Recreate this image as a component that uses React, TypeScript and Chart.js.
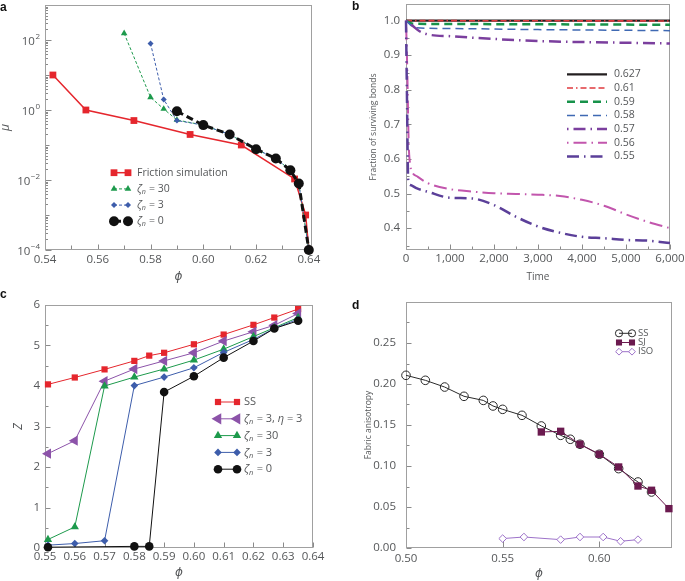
import React, { useEffect, useRef } from 'react';
import { Chart, registerables } from 'chart.js';
import { drawPoint } from 'chart.js/helpers';

Chart.register(...registerables);

const FONT = '"Open Sans", "DejaVu Sans", sans-serif';
const TXT = '#555759';
const BOX = '#a0a0a0';
const TICK = '#8a8a8a';

// ---------------- Panel a ----------------
const phiFriction = [0.543, 0.5555, 0.5737, 0.595, 0.6144, 0.6346, 0.6388, 0.640];
const muFriction = [10, 1.0, 0.5, 0.2, 0.1, 0.0107, 0.001, 0.0001];
const phiZeta30a = [0.570, 0.580, 0.585, 0.590, 0.600, 0.610, 0.620, 0.6275, 0.633, 0.6362, 0.640];
const muZeta30a = [155, 2.3, 1.07, 0.52, 0.37, 0.2, 0.076, 0.041, 0.019, 0.0079, 0.0001];
const phiZeta3a = [0.580, 0.585, 0.590, 0.600, 0.610, 0.620, 0.6275, 0.633, 0.6362, 0.640];
const muZeta3a = [80, 2.0, 0.5, 0.37, 0.2, 0.076, 0.041, 0.019, 0.0079, 0.0001];
const phiZeta0a = [0.590, 0.600, 0.610, 0.620, 0.6275, 0.633, 0.6362, 0.640];
const muZeta0a = [0.92, 0.37, 0.2, 0.076, 0.041, 0.019, 0.0079, 0.0001];
const phiTicksA = [0.54, 0.56, 0.58, 0.60, 0.62, 0.64];
const phiMinorA = [0.55, 0.57, 0.59, 0.61, 0.63];
const muLabelExps = [-4, -2, 0, 2];
const muDecades = [-4, -3, -2, -1, 0, 1, 2, 3];

// ---------------- Panel b ----------------
const t627 = [0, 6000];
const f627 = [1.0, 1.0];
const t61 = [0, 6000];
const f61 = [1.0, 0.999];
const t59 = [0, 150, 1000, 6000];
const f59 = [1.0, 0.991, 0.99, 0.988];
const t58 = [0, 200, 1000, 3000, 6000];
const f58 = [1.0, 0.98, 0.977, 0.974, 0.971];
const t57 = [0, 150, 300, 500, 1000, 2000, 3000, 4000, 5000, 6000];
const f57 = [1.0, 0.985, 0.97, 0.96, 0.955, 0.947, 0.941, 0.938, 0.936, 0.934];
const t56 = [0, 30, 60, 100, 150, 250, 500, 1000, 1500, 2000, 2500, 3000, 3500, 4000, 4500, 5000, 5500, 6000];
const f56 = [1.0, 0.85, 0.65, 0.58, 0.56, 0.55, 0.53, 0.513, 0.506, 0.501, 0.499, 0.497, 0.493, 0.482, 0.465, 0.44, 0.418, 0.40];
const t55 = [0, 20, 50, 100, 250, 500, 1000, 1500, 2000, 2500, 3000, 3500, 4000, 4500, 5000, 5500, 6000];
const f55 = [1.0, 0.8, 0.54, 0.525, 0.515, 0.505, 0.488, 0.486, 0.467, 0.433, 0.405, 0.387, 0.375, 0.371, 0.366, 0.364, 0.357];
const timeTicks = [0, 1000, 2000, 3000, 4000, 5000, 6000];
const timeMinor = [500, 1500, 2500, 3500, 4500, 5500];
const fracTicks = [0.4, 0.5, 0.6, 0.7, 0.8, 0.9, 1.0];
const fracMinor = [0.35, 0.45, 0.55, 0.65, 0.75, 0.85, 0.95];
const bondLabels = ['0.627', '0.61', '0.59', '0.58', '0.57', '0.56', '0.55'];

// ---------------- Panel c ----------------
const phiSSc = [0.551, 0.560, 0.570, 0.580, 0.585, 0.590, 0.600, 0.610, 0.620, 0.627, 0.635];
const zSSc = [4.04, 4.21, 4.41, 4.62, 4.75, 4.82, 5.03, 5.27, 5.51, 5.69, 5.9];
const phiC = [0.551, 0.560, 0.570, 0.580, 0.590, 0.600, 0.610, 0.620, 0.627, 0.635];
const zEta3 = [2.33, 2.65, 4.12, 4.42, 4.62, 4.82, 5.11, 5.34, 5.5, 5.79];
const zZeta30 = [0.21, 0.52, 4.0, 4.22, 4.42, 4.64, 4.91, 5.22, 5.44, 5.69];
const zZeta3 = [0.07, 0.11, 0.18, 4.01, 4.22, 4.45, 4.83, 5.15, 5.42, 5.65];
const phiZeta0c = [0.551, 0.580, 0.585, 0.590, 0.600, 0.610, 0.620, 0.627, 0.635];
const zZeta0 = [0.02, 0.04, 0.04, 3.85, 4.24, 4.7, 5.11, 5.42, 5.61];
const phiTicksC = [0.55, 0.56, 0.57, 0.58, 0.59, 0.60, 0.61, 0.62, 0.63, 0.64];
const zTicks = [0, 1, 2, 3, 4, 5, 6];
const zMinor = [0.5, 1.5, 2.5, 3.5, 4.5, 5.5];

// ---------------- Panel d ----------------
const phiSSd = [0.50, 0.51, 0.52, 0.53, 0.54, 0.545, 0.55, 0.56, 0.57, 0.58, 0.585, 0.59, 0.60, 0.61, 0.62, 0.627];
const faSS = [0.2106, 0.2045, 0.1963, 0.185, 0.180, 0.1732, 0.1691, 0.1618, 0.1488, 0.1374, 0.1326, 0.1265, 0.1143, 0.0968, 0.0805, 0.0683];
const phiSJ = [0.57, 0.58, 0.59, 0.60, 0.61, 0.62, 0.627, 0.636];
const faSJ = [0.1415, 0.1423, 0.1265, 0.1143, 0.0988, 0.0756, 0.0704, 0.048];
const phiISO = [0.55, 0.561, 0.58, 0.59, 0.602, 0.611, 0.62];
const faISO = [0.0115, 0.0134, 0.0102, 0.0134, 0.0134, 0.0082, 0.0102];
const phiTicksD = [0.50, 0.55, 0.60];
const faTicks = [0, 0.05, 0.10, 0.15, 0.20, 0.25];
const faMinor = [0.025, 0.075, 0.125, 0.175, 0.225, 0.275];

// ---------------- helpers ----------------
const pts = (xs: number[], ys: number[]) => xs.map((x, i) => ({ x, y: ys[i] }));

type Part = [string, 'n' | 'i' | 's'];

function drawParts(ctx: CanvasRenderingContext2D, parts: Part[], x: number, y: number, size: number) {
  ctx.fillStyle = TXT;
  ctx.textBaseline = 'middle';
  ctx.textAlign = 'left';
  for (const [t, k] of parts) {
    const sz = k === 's' ? size * 0.68 : size;
    ctx.font = `${k !== 'n' ? 'italic ' : ''}${sz}px ${FONT}`;
    const dy = k === 's' ? size * 0.3 : 0;
    ctx.fillText(t, x, y + dy);
    x += ctx.measureText(t).width + (k === 's' ? 0.5 : 0);
  }
}

type TickSet = { axis: 'x' | 'y'; values: number[]; len: number };
type FrameCfg = { ticks: TickSet[]; pow?: { exps: number[]; size: number; supSize: number; pad: number } };

const makeFrame = (cfg: FrameCfg) => ({
  id: 'frame',
  beforeDatasetsDraw(chart: any) {
    const { ctx, chartArea: a } = chart;
    ctx.save();
    ctx.lineWidth = 1;
    const l = Math.round(a.left) + 0.5;
    const t = Math.round(a.top) + 0.5;
    const r = Math.round(a.right) - 0.5;
    const b = Math.round(a.bottom) - 0.5;
    ctx.strokeStyle = TICK;
    for (const set of cfg.ticks) {
      const sc = chart.scales[set.axis];
      for (const v of set.values) {
        const p = Math.round(sc.getPixelForValue(v)) + 0.5;
        ctx.beginPath();
        if (set.axis === 'x') {
          ctx.moveTo(p, b);
          ctx.lineTo(p, b - set.len);
        } else {
          ctx.moveTo(l, p);
          ctx.lineTo(l + set.len, p);
        }
        ctx.stroke();
      }
    }
    ctx.strokeStyle = BOX;
    ctx.strokeRect(l, t, r - l, b - t);
    if (cfg.pow) {
      const sc = chart.scales.y;
      const pw = cfg.pow;
      for (const e of pw.exps) {
        const y = sc.getPixelForValue(Math.pow(10, e));
        const sup = e < 0 ? '\u2212' + -e : String(e);
        ctx.font = `${pw.supSize}px ${FONT}`;
        const sw = ctx.measureText(sup).width;
        ctx.font = `${pw.size}px ${FONT}`;
        const bw = ctx.measureText('10').width;
        const right = a.left - pw.pad;
        ctx.fillStyle = TXT;
        ctx.textBaseline = 'middle';
        ctx.textAlign = 'left';
        ctx.fillText('10', right - sw - bw - 0.5, y + 1.5);
        ctx.font = `${pw.supSize}px ${FONT}`;
        ctx.fillText(sup, right - sw, y - 3);
      }
    }
    ctx.restore();
  },
});

type LegendCfg = {
  x1: number; x2: number; textX: number; y0: number; dy: number; size: number; markers: boolean;
  items: { ds: number; parts: Part[] }[];
};

const makeLegend = (cfg: LegendCfg) => ({
  id: 'sketchLegend',
  afterDraw(chart: any) {
    const ctx: CanvasRenderingContext2D = chart.ctx;
    ctx.save();
    cfg.items.forEach((it, i) => {
      const y = cfg.y0 + i * cfg.dy;
      const ds: any = chart.data.datasets[it.ds];
      ctx.save();
      ctx.strokeStyle = ds.borderColor;
      ctx.lineWidth = ds.legendLineWidth ?? ds.borderWidth;
      ctx.setLineDash(ds.legendDash ?? ds.borderDash ?? []);
      ctx.beginPath();
      ctx.moveTo(cfg.x1, y);
      ctx.lineTo(cfg.x2, y);
      ctx.stroke();
      ctx.restore();
      if (cfg.markers) {
        for (const x of [cfg.x1, cfg.x2]) {
          ctx.save();
          ctx.setLineDash([]);
          ctx.fillStyle = ds.pointBackgroundColor;
          ctx.strokeStyle = ds.pointBorderColor;
          ctx.lineWidth = ds.pointBorderWidth;
          drawPoint(ctx, {
            pointStyle: ds.pointStyle,
            rotation: ds.pointRotation || 0,
            radius: ds.legendRadius ?? ds.pointRadius,
            borderWidth: ds.pointBorderWidth,
          } as any, x, y);
          ctx.restore();
        }
      }
      drawParts(ctx, it.parts, cfg.textX, y, cfg.size);
    });
    ctx.restore();
  },
});

type AxisOpts = {
  type?: string; min: number; max: number; ticks: number[]; fmt?: (v: number) => string;
  size: number; labelPad: number; showLabels?: boolean; labelSize?: number;
  title?: string; titleSize?: number; titleItalic?: boolean; titlePad?: number;
};

function axis(kind: 'x' | 'y', o: AxisOpts) {
  return {
    type: o.type || 'linear',
    position: kind === 'x' ? 'bottom' : 'left',
    min: o.min,
    max: o.max,
    grid: { display: false, drawTicks: false },
    border: { display: false },
    afterBuildTicks: (s: any) => {
      s.ticks = o.ticks.map((v) => ({ value: v }));
    },
    afterFit: (s: any) => {
      if (kind === 'x') s.height = o.size;
      else s.width = o.size;
      s.paddingLeft = 0;
      s.paddingRight = 0;
      s.paddingTop = 0;
      s.paddingBottom = 0;
    },
    ticks: {
      display: o.showLabels !== false,
      padding: o.labelPad,
      autoSkip: false,
      maxRotation: 0,
      minRotation: 0,
      color: TXT,
      font: { family: FONT, size: o.labelSize ?? 11.5 },
      callback: (v: any) => (o.fmt ? o.fmt(Number(v)) : String(v)),
    },
    title: o.title
      ? {
          display: true,
          text: o.title,
          color: TXT,
          font: { family: FONT, size: o.titleSize ?? 12, style: o.titleItalic === false ? 'normal' : 'italic' },
          padding: { top: o.titlePad ?? 0, bottom: o.titlePad ?? 0 },
        }
      : { display: false },
  };
}

function baseOptions(padding: any, x: any, y: any) {
  return {
    responsive: false,
    maintainAspectRatio: false,
    animation: false,
    devicePixelRatio: 1,
    events: [],
    layout: { padding },
    plugins: { legend: { display: false }, tooltip: { enabled: false }, title: { display: false } },
    elements: { line: { tension: 0 } },
    scales: { x, y },
  };
}

// ---------------- configs ----------------
function configA() {
  const yMinor: number[] = [];
  const yMid: number[] = [];
  for (const e of muDecades) {
    if (!muLabelExps.includes(e)) yMid.push(Math.pow(10, e));
    if (e < 3) for (let k = 2; k <= 9; k++) yMinor.push(k * Math.pow(10, e));
  }
  const datasets = [
    {
      data: pts(phiFriction, muFriction), borderColor: '#e5262d', borderWidth: 1.5, order: 4,
      pointStyle: 'rect', pointRadius: 4.8, pointBackgroundColor: '#e5262d', pointBorderColor: '#e5262d', pointBorderWidth: 0, clip: false,
    },
    {
      data: pts(phiZeta30a, muZeta30a), borderColor: '#1d9a4c', borderWidth: 1, borderDash: [3, 2], order: 3,
      pointStyle: 'triangle', pointRadius: 3.8, pointBackgroundColor: '#1d9a4c', pointBorderColor: '#1d9a4c', pointBorderWidth: 0, clip: false,
    },
    {
      data: pts(phiZeta3a, muZeta3a), borderColor: '#3d5dab', borderWidth: 1, borderDash: [3, 2], order: 2,
      pointStyle: 'rectRot', pointRadius: 3, pointBackgroundColor: '#3d5dab', pointBorderColor: '#3d5dab', pointBorderWidth: 0, clip: false,
    },
    {
      data: pts(phiZeta0a, muZeta0a), borderColor: '#111111', borderWidth: 3, borderDash: [7, 4], order: 1,
      pointStyle: 'circle', pointRadius: 5, pointBackgroundColor: '#111111', pointBorderColor: '#111111', pointBorderWidth: 0, clip: false,
    },
  ];
  return {
    type: 'line',
    data: { datasets },
    options: baseOptions(
      { left: 0, right: 30, top: 4, bottom: 0 },
      axis('x', { min: 0.54, max: 0.6412, ticks: phiTicksA, fmt: (v) => v.toFixed(2), size: 40, labelPad: 3, title: '\u03d5', titlePad: 6 }),
      axis('y', { type: 'logarithmic', min: 1e-4, max: 1e3, ticks: muLabelExps.map((e) => Math.pow(10, e)), size: 45, labelPad: 5, showLabels: false, title: '\u03bc', titlePad: -1.5 }),
    ),
    plugins: [
      makeFrame({
        ticks: [
          { axis: 'x', values: phiTicksA, len: 5 },
          { axis: 'x', values: phiMinorA, len: 4 },
          { axis: 'y', values: muLabelExps.map((e) => Math.pow(10, e)), len: 6 },
          { axis: 'y', values: yMid, len: 4 },
          { axis: 'y', values: yMinor, len: 2.5 },
        ],
        pow: { exps: muLabelExps, size: 11.5, supSize: 8, pad: 5 },
      }),
      makeLegend({
        x1: 114, x2: 128, textX: 137, y0: 172.7, dy: 16.2, size: 10.5, markers: true,
        items: [
          { ds: 0, parts: [['Friction simulation', 'n']] },
          { ds: 1, parts: [['\u03b6', 'i'], ['n', 's'], [' = 30', 'n']] },
          { ds: 2, parts: [['\u03b6', 'i'], ['n', 's'], [' = 3', 'n']] },
          { ds: 3, parts: [['\u03b6', 'i'], ['n', 's'], [' = 0', 'n']] },
        ],
      }),
    ],
  };
}

function configB() {
  const series = [
    { t: t627, f: f627, color: '#231f20', w: 2.2, dash: [] as number[] },
    { t: t61, f: f61, color: '#e03a3e', w: 1.6, dash: [6, 3, 1.5, 3, 6, 3, 6, 3] },
    { t: t59, f: f59, color: '#17924a', w: 2.5, dash: [8, 5] },
    { t: t58, f: f58, color: '#3f69b3', w: 1.5, dash: [8, 5] },
    { t: t57, f: f57, color: '#7b3f9e', w: 2.5, dash: [1.5, 5, 12, 5] },
    { t: t56, f: f56, color: '#c256ad', w: 2, dash: [1.5, 5, 13, 5] },
    { t: t55, f: f55, color: '#5b3f99', w: 2.5, dash: [12, 5, 1.5, 5] },
  ];
  const datasets = series.map((s, i) => ({
    label: bondLabels[i],
    data: pts(s.t, s.f),
    borderColor: s.color,
    borderWidth: s.w,
    borderDash: s.dash,
    pointRadius: 0,
    tension: 0.4,
    cubicInterpolationMode: 'monotone',
    order: 7 - i,
    clip: false,
  }));
  return {
    type: 'line',
    data: { datasets },
    options: baseOptions(
      { left: 0, right: 15, top: 4, bottom: 0 },
      axis('x', {
        min: 0, max: 6000, ticks: timeTicks, size: 40, labelPad: 1.5,
        fmt: (v) => v.toLocaleString('en-US'),
        title: 'Time', titleSize: 10, titleItalic: false, titlePad: 7,
      }),
      axis('y', {
        min: 0.337, max: 1.048, ticks: fracTicks, size: 64, labelPad: 6,
        fmt: (v) => v.toFixed(1),
        title: 'Fraction of surviving bonds', titleSize: 8.5, titleItalic: false, titlePad: 26,
      }),
    ),
    plugins: [
      makeFrame({
        ticks: [
          { axis: 'x', values: timeTicks, len: 5 },
          { axis: 'x', values: timeMinor, len: 3 },
          { axis: 'y', values: fracTicks, len: 5 },
          { axis: 'y', values: fracMinor, len: 3 },
        ],
      }),
      makeLegend({
        x1: 225, x2: 265, textX: 272, y0: 74.3, dy: 13.7, size: 10.5, markers: false,
        items: bondLabels.map((lab, i) => ({ ds: i, parts: [[lab, 'n']] as Part[] })),
      }),
    ],
  };
}

function configC() {
  const mk = (xs: number[], ys: number[], color: string, style: string, r: number, order: number, rot = 0, lr?: number) => ({
    data: pts(xs, ys), borderColor: color, borderWidth: 1, order,
    pointStyle: style, pointRadius: r, pointRotation: rot, legendRadius: lr ?? r,
    pointBackgroundColor: color, pointBorderColor: color, pointBorderWidth: 0, clip: false,
  });
  const datasets = [
    mk(phiSSc, zSSc, '#e5262d', 'rect', 4.4, 5),
    mk(phiC, zEta3, '#8c53a9', 'triangle', 6, 4, -90, 6.5),
    mk(phiC, zZeta30, '#1d9a4c', 'triangle', 4.8, 3),
    mk(phiC, zZeta3, '#3d5dab', 'rectRot', 3.8, 2),
    mk(phiZeta0c, zZeta0, '#111111', 'circle', 4.3, 1),
  ];
  return {
    type: 'line',
    data: { datasets },
    options: baseOptions(
      { left: 0, right: 29, top: 15, bottom: 0 },
      axis('x', { min: 0.55, max: 0.64, ticks: phiTicksC, fmt: (v) => v.toFixed(2), size: 33, labelPad: 1.8, title: '\u03d5', titlePad: 1 }),
      axis('y', { min: 0, max: 6, ticks: zTicks, fmt: (v) => String(Math.round(v)), size: 45, labelPad: 5, title: 'Z', titlePad: 11 }),
    ),
    plugins: [
      makeFrame({
        ticks: [
          { axis: 'x', values: phiTicksC, len: 5 },
          { axis: 'y', values: zTicks, len: 5 },
          { axis: 'y', values: zMinor, len: 3 },
        ],
      }),
      makeLegend({
        x1: 218, x2: 237, textX: 244, y0: 112, dy: 16.8, size: 11, markers: true,
        items: [
          { ds: 0, parts: [['SS', 'n']] },
          { ds: 1, parts: [['\u03b6', 'i'], ['n', 's'], [' = 3, ', 'n'], ['\u03b7', 'i'], [' = 3', 'n']] },
          { ds: 2, parts: [['\u03b6', 'i'], ['n', 's'], [' = 30', 'n']] },
          { ds: 3, parts: [['\u03b6', 'i'], ['n', 's'], [' = 3', 'n']] },
          { ds: 4, parts: [['\u03b6', 'i'], ['n', 's'], [' = 0', 'n']] },
        ],
      }),
    ],
  };
}

function configD() {
  const datasets = [
    {
      data: pts(phiSSd, faSS), borderColor: '#2a2a2a', borderWidth: 1, order: 3,
      pointStyle: 'circle', pointRadius: 4.3, legendRadius: 3.6, pointBackgroundColor: 'rgba(255,255,255,0)', pointBorderColor: '#2a2a2a', pointBorderWidth: 1, clip: false,
    },
    {
      data: pts(phiSJ, faSJ), borderColor: '#6b1a4f', borderWidth: 1, order: 2,
      pointStyle: 'rect', pointRadius: 5.2, legendRadius: 4.3, pointBackgroundColor: '#6b1a4f', pointBorderColor: '#6b1a4f', pointBorderWidth: 0, clip: false,
    },
    {
      data: pts(phiISO, faISO), borderColor: '#9d72c9', borderWidth: 1, order: 1,
      pointStyle: 'rectRot', pointRadius: 3.8, legendRadius: 3.4, pointBackgroundColor: '#ffffff', pointBorderColor: '#9d72c9', pointBorderWidth: 1, clip: false,
    },
  ];
  return {
    type: 'line',
    data: { datasets },
    options: baseOptions(
      { left: 0, right: 13, top: 12, bottom: 0 },
      axis('x', { min: 0.5, max: 0.6376, ticks: phiTicksD, fmt: (v) => v.toFixed(2), size: 33, labelPad: 3.7, title: '\u03d5', titlePad: 0 }),
      axis('y', {
        min: 0, max: 0.3, ticks: faTicks, fmt: (v) => v.toFixed(2), size: 64, labelPad: 10,
        title: 'Fabric anisotropy', titleSize: 8.5, titleItalic: false, titlePad: 21,
      }),
    ),
    plugins: [
      makeFrame({
        ticks: [
          { axis: 'x', values: phiTicksD, len: 6 },
          { axis: 'y', values: faTicks, len: 5 },
          { axis: 'y', values: faMinor, len: 3 },
        ],
      }),
      makeLegend({
        x1: 277, x2: 290, textX: 296, y0: 43.3, dy: 9.2, size: 9.5, markers: true,
        items: [
          { ds: 0, parts: [['SS', 'n']] },
          { ds: 1, parts: [['SJ', 'n']] },
          { ds: 2, parts: [['ISO', 'n']] },
        ],
      }),
    ],
  };
}

function Panel({ make, left, top, width, height }: { make: () => any; left: number; top: number; width: number; height: number }) {
  const ref = useRef<HTMLCanvasElement>(null);
  useEffect(() => {
    if (!ref.current) return;
    const chart = new Chart(ref.current, make());
    return () => chart.destroy();
  }, []);
  return (
    <div style={{ position: 'absolute', left, top, width, height }}>
      <canvas ref={ref} width={width} height={height} style={{ width, height, display: 'block' }} />
    </div>
  );
}

const labelStyle = (left: number, top: number): React.CSSProperties => ({
  position: 'absolute', left, top, fontFamily: '"Liberation Sans", Arial, sans-serif', fontWeight: 'bold',
  fontSize: 12, lineHeight: '12px', color: '#111',
});

export default function App() {
  return (
    <div style={{ position: 'absolute', left: 0, top: 0, width: 685, height: 581, background: '#fff', overflow: 'hidden' }}>
      <Panel make={configA} left={0} top={0} width={342} height={290} />
      <Panel make={configB} left={342} top={0} width={343} height={290} />
      <Panel make={configC} left={0} top={290} width={342} height={291} />
      <Panel make={configD} left={342} top={290} width={343} height={291} />
      <div style={labelStyle(0, 1)}>a</div>
      <div style={labelStyle(352, 0)}>b</div>
      <div style={labelStyle(0, 288)}>c</div>
      <div style={labelStyle(352, 299)}>d</div>
    </div>
  );
}
